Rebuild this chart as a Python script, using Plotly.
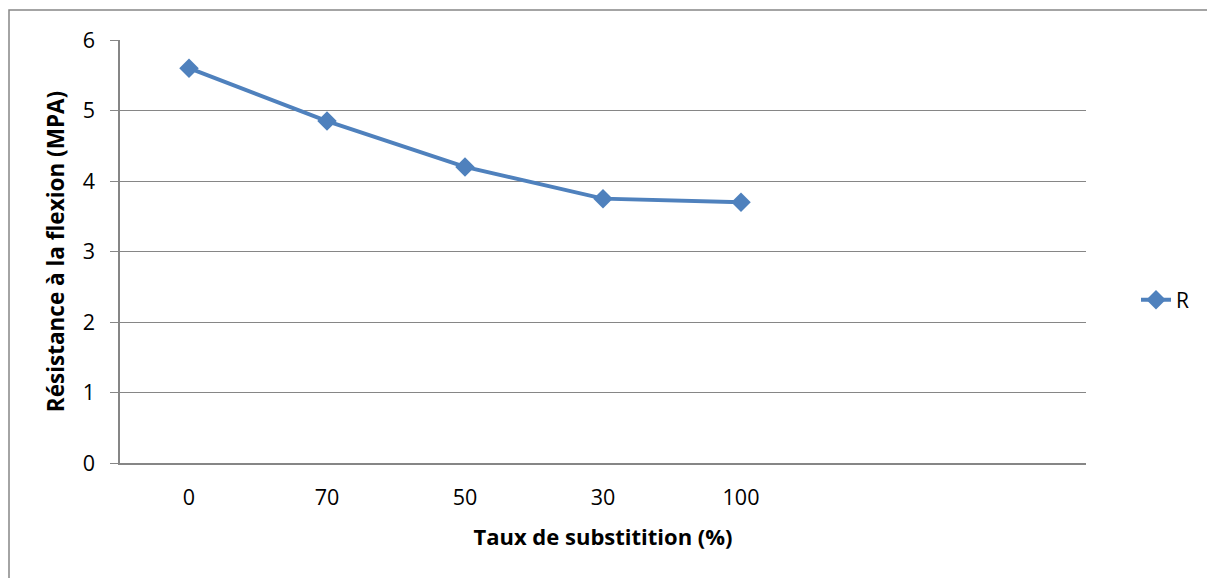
import plotly.graph_objects as go

categories = ["0", "70", "50", "30", "100", "", ""]
values_R = [5.6, 4.85, 4.2, 3.75, 3.7]
y_ticks = [0, 1, 2, 3, 4, 5, 6]

x_idx = list(range(len(values_R)))

# page has an 8px body margin, so figure is 1207x570
W, H = 1207, 570
L, R_, T = 112, 129, 32
ph = 423
B = H - T - ph
pw = W - L - R_

fig = go.Figure()
fig.add_trace(go.Scatter(
    x=x_idx, y=values_R, name="R", mode="lines+markers",
    line=dict(color="#4F81BD", width=4),
    marker=dict(symbol="diamond", size=15, color="#4F81BD"),
))

font = "Open Sans, Liberation Sans, sans-serif"
fig.update_layout(
    width=W, height=H,
    margin=dict(l=L, r=R_, t=T, b=B),
    paper_bgcolor="white", plot_bgcolor="white",
    font=dict(family=font, size=21, color="black"),
    showlegend=True,
    legend=dict(x=(1128 - L) / pw, y=(455 - 292) / ph, xanchor="left", yanchor="middle",
                font=dict(size=21), bgcolor="rgba(0,0,0,0)"),
    xaxis=dict(
        range=[-0.5, len(categories) - 0.5],
        tickvals=list(range(len(categories))), ticktext=categories,
        showgrid=False, zeroline=False,
        showline=True, linecolor="#868686", linewidth=1.5,
        ticks="", ticklabelstandoff=14,
        tickfont=dict(size=21.5),
        title=dict(text="<b>Taux de substitition (%)</b>", font=dict(size=22), standoff=20),
    ),
    yaxis=dict(
        range=[0, 6], tickvals=y_ticks,
        showgrid=True, gridcolor="#868686", gridwidth=1.2,
        zeroline=False, showline=True, linecolor="#868686", linewidth=1.5,
        ticks="outside", ticklen=8, tickcolor="#868686", ticklabelstandoff=11,
        tickfont=dict(size=21.5),
        title=dict(text="<b>Résistance à la flexion (MPA)</b>", font=dict(size=22.5), standoff=12),
    ),
)

fig.add_shape(type="rect", xref="paper", yref="paper",
              x0=(1 - L) / pw, x1=(W + 20 - L) / pw,
              y0=-(H + 20 - T - ph) / ph, y1=(455 - 2) / ph,
              line=dict(color="#868686", width=1.5), fillcolor="rgba(0,0,0,0)", layer="below")

fig.write_html("out.html")
